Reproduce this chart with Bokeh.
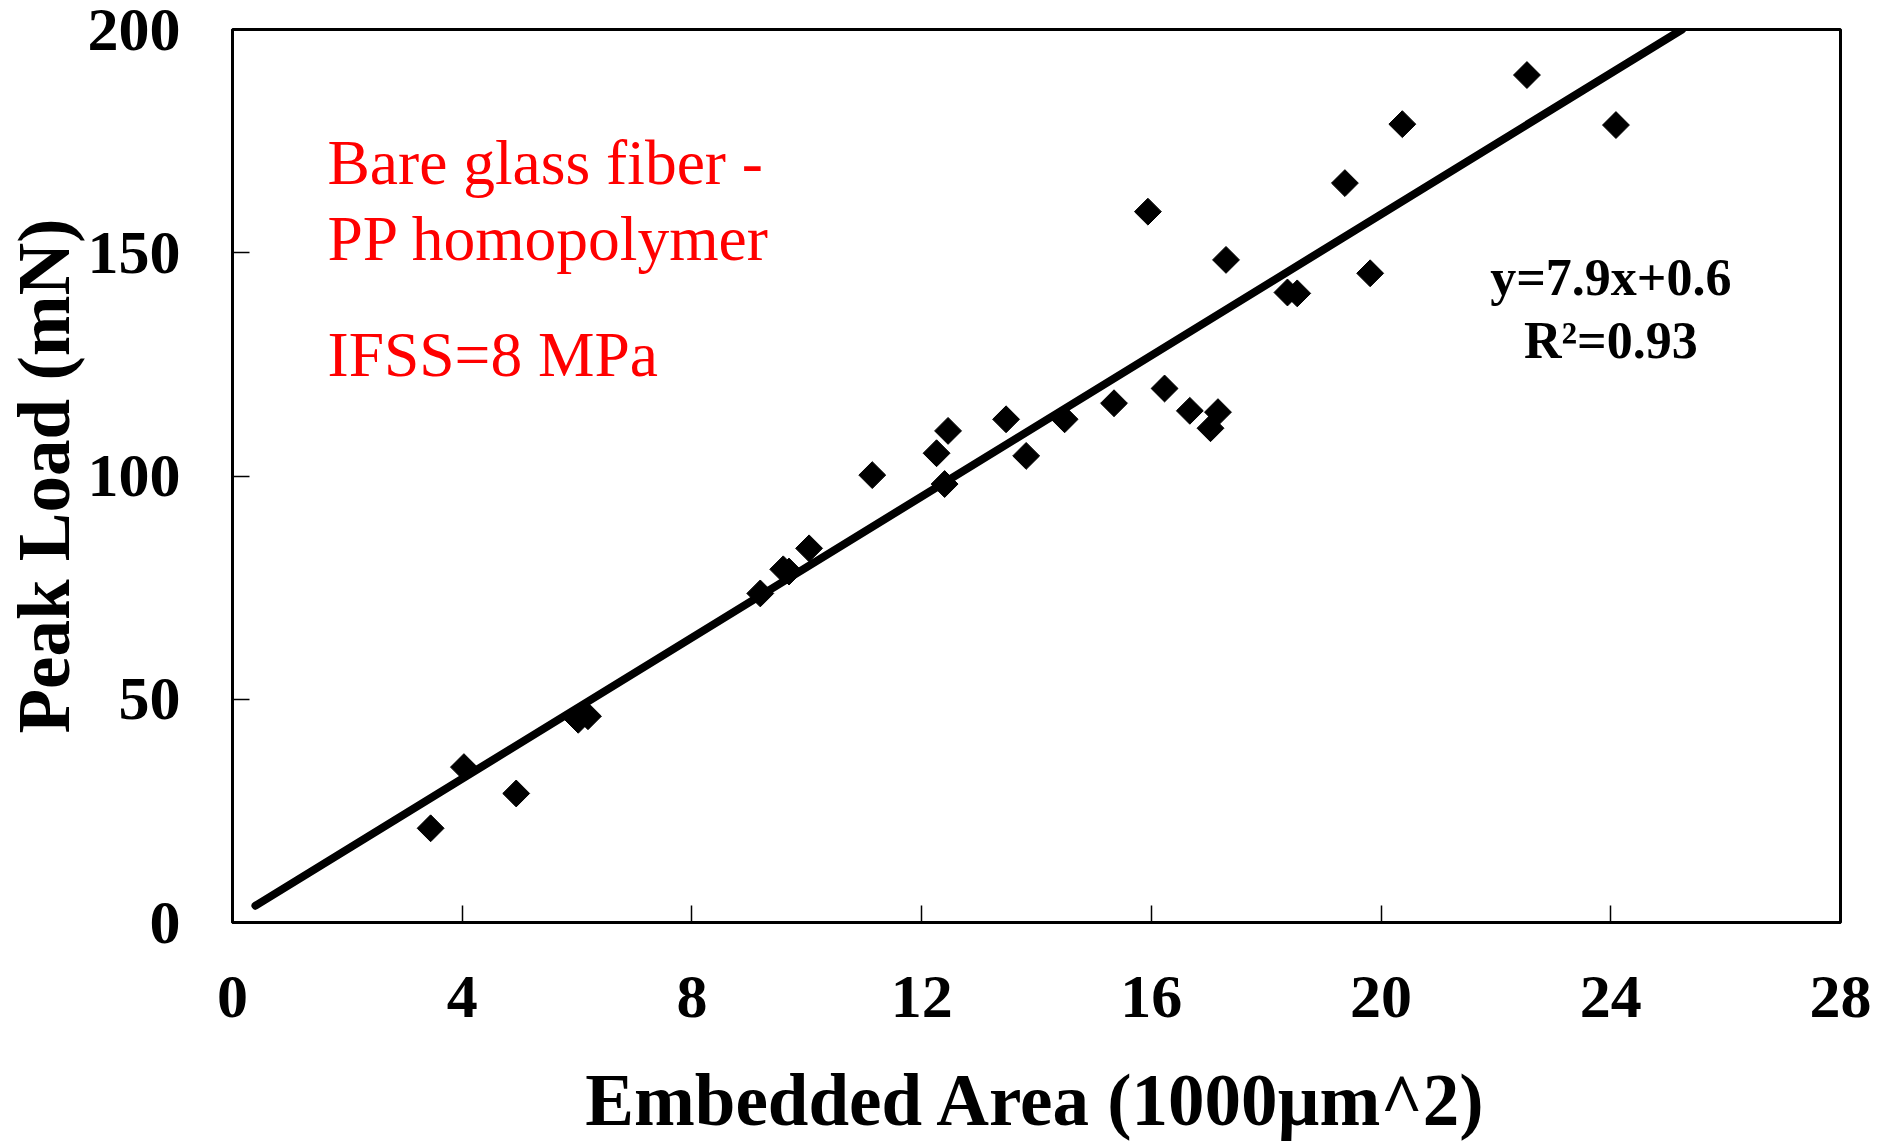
from bokeh.plotting import figure
from bokeh.models import Range1d, FixedTicker
from bokeh.core.properties import value
from bokeh.embed import file_html
from bokeh.resources import INLINE
import numpy as np

# ---- data ----
area = [3.45, 4.03, 4.94, 6.02, 6.19, 9.19, 9.59, 9.69, 10.04, 11.14,
        12.26, 12.40, 12.46, 13.47, 13.82, 14.49, 15.35, 15.94, 16.23, 16.67,
        17.03, 17.16, 17.30, 18.37, 18.54, 19.37, 19.81, 20.37, 22.54, 24.09]
peak_load = [21.1, 34.8, 28.9, 45.4, 46.2, 73.7, 79.1, 78.6, 83.8, 100.2,
             105.1, 98.2, 110.1, 112.7, 104.5, 112.7, 116.3, 159.2, 119.6, 114.6,
             110.7, 114.3, 148.4, 141.1, 140.9, 165.6, 145.4, 178.8, 189.8, 178.6]
fit_slope = 7.9
fit_intercept = 0.6
fit_x_start = 0.4
x_ticks = [0, 4, 8, 12, 16, 20, 24, 28]
y_ticks = [0, 50, 100, 150, 200]
note_lines = ["Bare glass fiber -", "PP homopolymer", "IFSS=8 MPa"]
eq_lines = ["y=7.9x+0.6", "R\u00b2=0.93"]
x_label = "Embedded Area (1000\u00b5m^2)"
y_label = "Peak Load (mN)"

FONT = "Liberation Serif"

p = figure(width=1875, height=1144, output_backend="svg", toolbar_location=None,
           x_range=Range1d(0, 28), y_range=Range1d(0, 200),
           min_border_left=232, min_border_right=35, min_border_top=29,
           min_border_bottom=222)
p.grid.visible = False
p.outline_line_color = "black"
p.outline_line_width = 3
p.background_fill_color = "white"
p.border_fill_color = "white"

p.xaxis.ticker = FixedTicker(ticks=x_ticks)
p.yaxis.ticker = FixedTicker(ticks=y_ticks)
for ax in (p.xaxis[0], p.yaxis[0]):
    ax.axis_line_width = 3
    ax.axis_line_color = "black"
    ax.major_tick_in = 17
    ax.major_tick_out = 0
    ax.major_tick_line_width = 1.5
    ax.major_tick_line_color = "black"
    ax.minor_tick_line_color = None
    ax.major_label_text_font = FONT
    ax.major_label_text_font_style = "bold"
    ax.major_label_text_font_size = "62px"
    ax.major_label_text_color = "black"
    ax.axis_label_text_font = FONT
    ax.axis_label_text_font_style = "bold"
    ax.axis_label_text_font_size = "73px"
    ax.axis_label_text_color = "black"

p.xaxis.axis_label = x_label
p.yaxis.axis_label = y_label
p.xaxis.major_label_standoff = 54
p.xaxis.axis_label_standoff = 40
p.yaxis.major_label_standoff = 52
p.yaxis.axis_label_standoff = 0

# fitted line
fx = [fit_x_start, (200 - fit_intercept) / fit_slope]
fy = [fit_slope * v + fit_intercept for v in fx]
p.line(fx, fy, line_color="black", line_width=8, line_cap="round")

# data points (diamonds)
p.scatter(area, peak_load, marker="square", size=19, angle=np.pi / 4,
          fill_color="black", line_color="black")

# red annotation
p.text(x=[1.654] * 3, y=[170.3, 153.1, 127.3], text=note_lines,
       text_font=value(FONT), text_font_size="63.5px", text_color="#ff0000",
       text_align="left", text_baseline="alphabetic")

# equation
p.text(x=[24.0, 24.0], y=[144.4, 130.3], text=eq_lines,
       text_font=value(FONT), text_font_size="52px", text_font_style="bold",
       text_color="black", text_align="center", text_baseline="alphabetic")

open("out.html", "w").write(file_html(p, INLINE))
